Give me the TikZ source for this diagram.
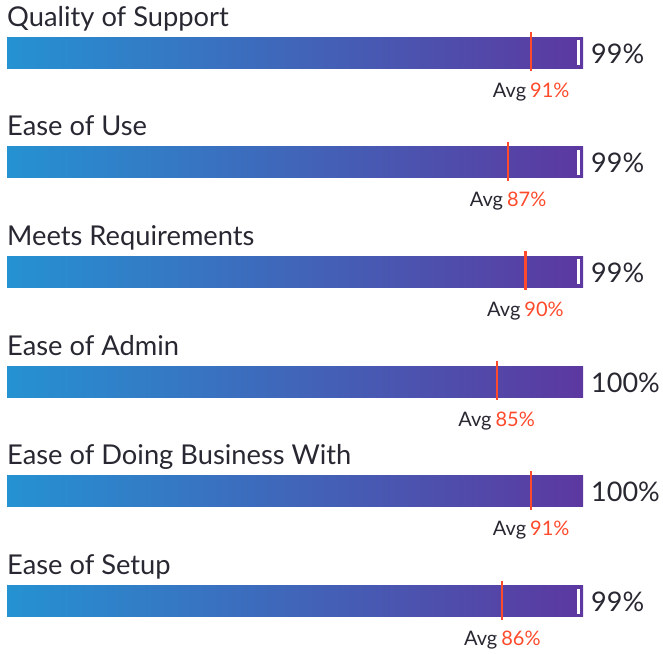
\documentclass[tikz,border=0pt]{standalone}
\usepackage{fontspec}
\setmainfont{Lato}
\usepackage{xcolor}
\usepackage{tikz}
\definecolor{barblue}{RGB}{37,146,210}
\definecolor{barpurple}{RGB}{92,56,160}
\definecolor{avgred}{RGB}{255,74,44}
\definecolor{textdark}{RGB}{40,40,50}
\usetikzlibrary{calc}

\begin{document}
\begin{tikzpicture}[x=1pt,y=-1pt,
    rowtitle/.style={anchor=base west, inner sep=0, text=textdark, font=\fontsize{27.3}{32}\selectfont},
    rowvalue/.style={anchor=base west, inner sep=0, text=textdark, font=\fontsize{27}{32}\selectfont},
    avglabel/.style={anchor=base, inner sep=0, font=\fontsize{20}{24}\selectfont}]
    \useasboundingbox (0,0) rectangle (663,653);

    % One row per rating: title, gradient bar, score, average marker
    \foreach \name/\val/\avg [count=\i from 0] in {
        Quality of Support/99/91,
        Ease of Use/99/87,
        Meets Requirements/99/90,
        Ease of Admin/100/85,
        Ease of Doing Business With/100/91,
        Ease of Setup/99/86} {
        \pgfmathsetmacro{\bary}{37+109.7*\i}
        \pgfmathsetmacro{\fillend}{7+5.76*\val}
        \pgfmathsetmacro{\avgx}{7+5.76*\avg}

        \node[rowtitle] (title\i) at (7,\bary-11) {\name};

        % Bar with gradient
        \shade[left color=barblue, right color=barpurple] (7,\bary) rectangle (583,\bary+31);
        \ifnum\val<100
            \fill[white] (\fillend,\bary+3) rectangle (580,\bary+28);
        \fi

        \node[rowvalue] (value\i) at (591,\bary+26) {\val\%};

        % Average marker
        \draw[avgred, line width=2.2pt] (\avgx,\bary-5) -- (\avgx,\bary+34);
        \node[avglabel] (avg\i) at (\avgx,\bary+60)
            {\textcolor{textdark}{Avg}\hspace{4pt}\textcolor{avgred}{\avg\%}};
    }
\end{tikzpicture}
\end{document}
